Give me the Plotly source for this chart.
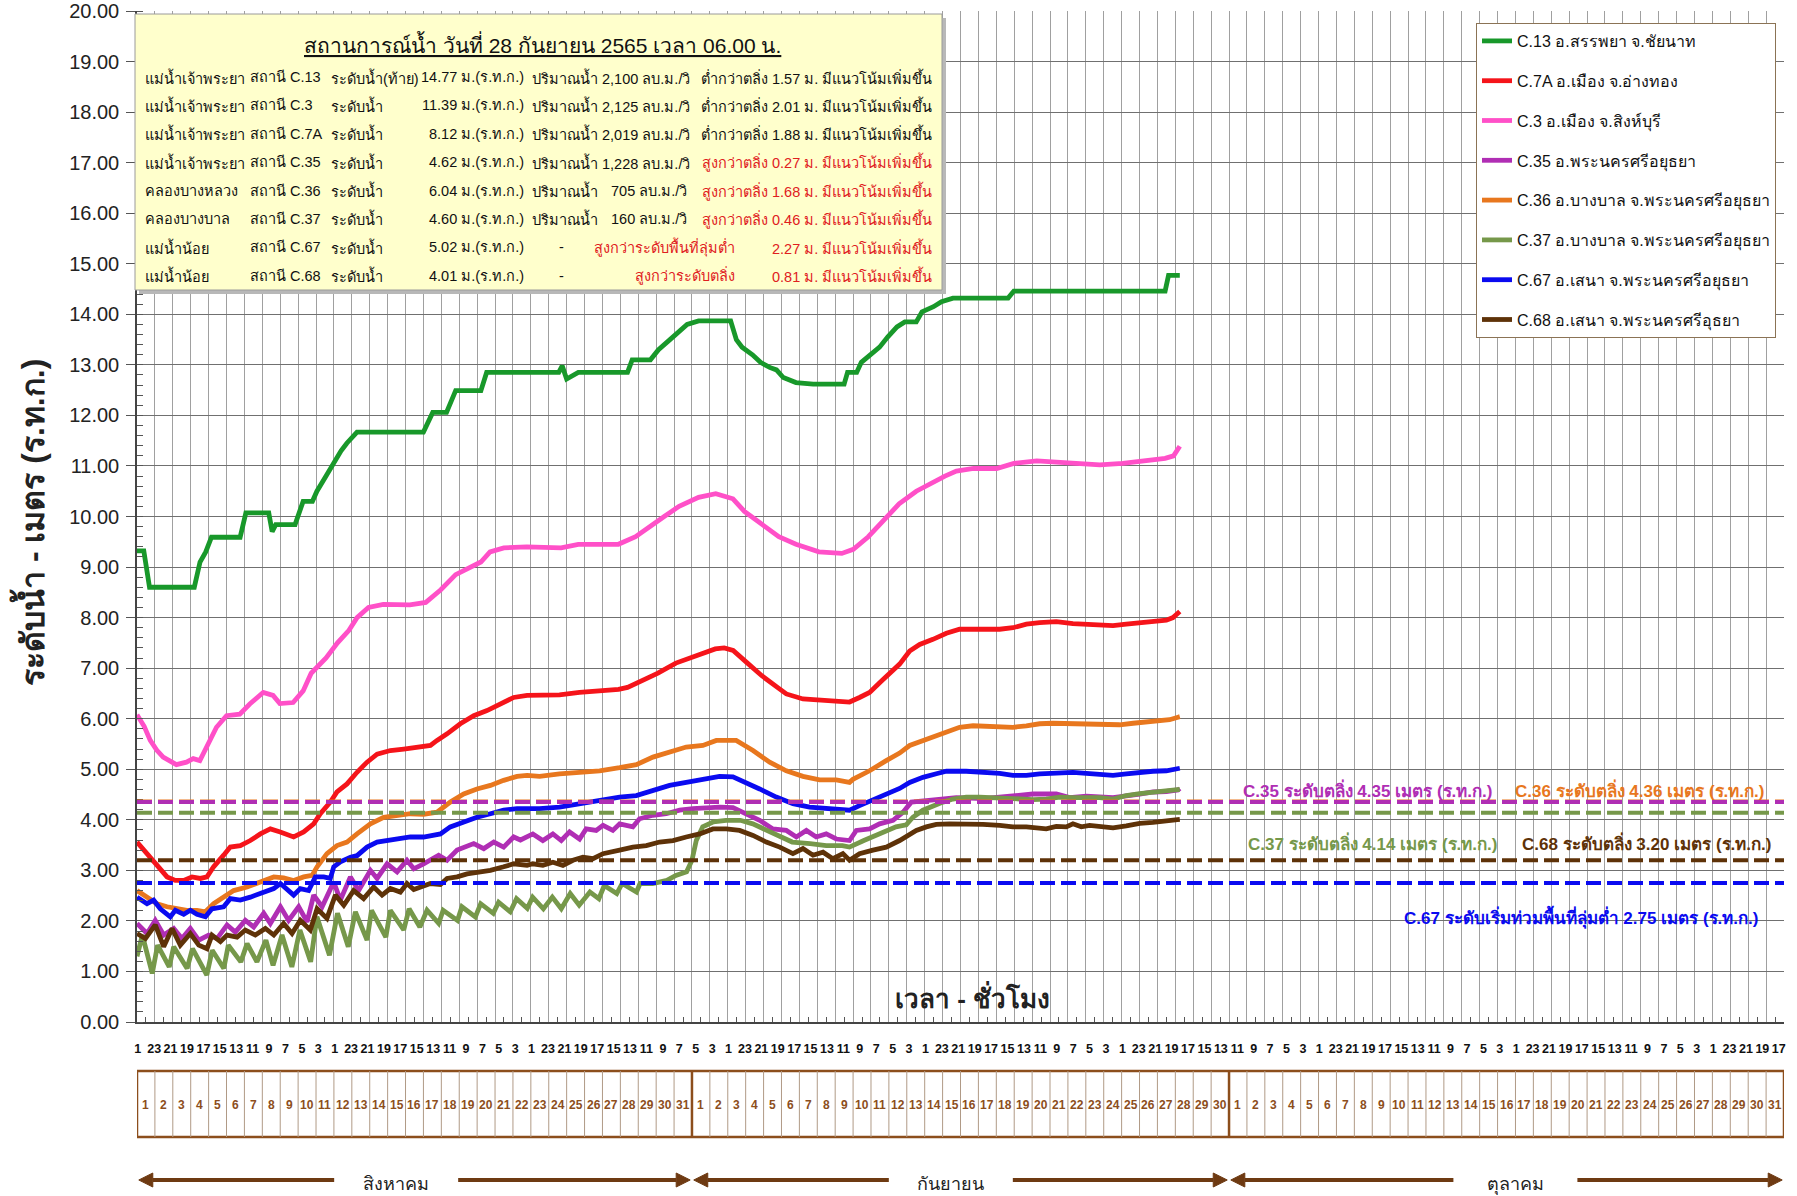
import plotly.graph_objects as go
from datetime import datetime

# ------------------------------------------------------------------
# Water levels (m MSL), time in days counted from 1 Aug 2022 00:00
# ------------------------------------------------------------------
C13_DAY = [0.00, 0.38, 0.70, 3.20, 3.52, 3.84, 4.16, 5.76, 6.08, 7.36, 7.55, 7.75, 8.83, 9.09, 9.28, 9.80,
           10.05, 10.56, 10.88, 11.40, 11.72, 12.29, 16.00, 16.52, 17.29, 17.80, 19.21, 19.53, 23.56, 23.75,
           24.00, 24.33, 24.65, 27.40, 27.66, 28.68, 29.13, 29.77, 30.22, 30.73, 31.37, 33.16, 33.48, 33.80,
           34.38, 34.83, 35.34, 35.72, 36.10, 36.81, 37.77, 39.50, 39.69, 40.20, 40.46, 40.97, 41.48, 41.93,
           42.45, 42.89, 43.53, 43.85, 44.49, 44.94, 45.58, 48.66, 48.98, 57.43, 57.62]
C13_LEVEL = [9.32, 9.32, 8.60, 8.60, 9.10, 9.30, 9.59, 9.59, 10.07, 10.07, 9.70, 9.84, 9.84, 10.10, 10.30, 10.30,
             10.50, 10.80, 11.00, 11.30, 11.45, 11.67, 11.67, 12.06, 12.06, 12.49, 12.49, 12.85, 12.85, 12.98,
             12.72, 12.80, 12.85, 12.85, 13.10, 13.10, 13.30, 13.50, 13.65, 13.80, 13.87, 13.87, 13.50, 13.35,
             13.20, 13.05, 12.95, 12.90, 12.75, 12.65, 12.62, 12.62, 12.85, 12.85, 13.05, 13.20, 13.35, 13.55,
             13.75, 13.85, 13.85, 14.05, 14.15, 14.25, 14.32, 14.32, 14.46, 14.46, 14.77]

C3_DAY = [0.00, 0.40, 0.74, 1.10, 1.46, 2.20, 2.76, 3.14, 3.51, 3.88, 4.44, 5.00, 5.74, 6.30, 7.05, 7.60, 7.98,
          8.72, 9.28, 9.73, 10.56, 11.20, 11.84, 12.29, 12.93, 13.76, 15.24, 16.13, 16.97, 17.80, 18.69, 19.21,
          19.72, 20.49, 21.77, 23.69, 24.65, 26.89, 27.85, 28.81, 29.45, 30.28, 31.37, 32.33, 33.29, 33.93,
          34.89, 35.85, 36.81, 38.09, 39.37, 40.01, 40.85, 41.61, 42.57, 43.53, 44.30, 45.13, 45.77, 46.73,
          48.02, 48.98, 50.26, 51.22, 52.50, 53.78, 55.06, 56.34, 57.43, 57.90]
C3_LEVEL = [6.08, 5.85, 5.57, 5.38, 5.24, 5.09, 5.14, 5.21, 5.17, 5.44, 5.83, 6.06, 6.09, 6.29, 6.52, 6.46, 6.30,
            6.32, 6.55, 6.90, 7.20, 7.50, 7.75, 8.00, 8.20, 8.26, 8.25, 8.30, 8.55, 8.85, 9.00, 9.10,
            9.30, 9.38, 9.40, 9.38, 9.45, 9.45, 9.60, 9.85, 10.00, 10.20, 10.38, 10.45, 10.35, 10.10,
            9.85, 9.60, 9.45, 9.30, 9.27, 9.35, 9.60, 9.90, 10.25, 10.50, 10.65, 10.80, 10.90, 10.95,
            10.95, 11.05, 11.10, 11.08, 11.05, 11.02, 11.05, 11.10, 11.15, 11.20]

C7A_DAY = [0.00, 0.56, 1.12, 1.68, 2.14, 2.61, 3.07, 3.54, 3.91, 4.28, 4.84, 5.21, 5.77, 6.33, 6.89, 7.45, 8.00,
           8.75, 9.31, 9.87, 10.24, 10.80, 11.17, 11.73, 12.29, 12.85, 13.41, 14.15, 14.90, 15.64, 16.39, 16.76,
           17.32, 18.06, 18.81, 19.55, 20.30, 21.04, 21.79, 22.49, 23.60, 24.72, 25.84, 26.90, 27.40, 28.20,
           29.10, 30.10, 31.20, 32.30, 32.80, 33.30, 34.10, 34.90, 35.85, 36.27, 37.20, 38.13, 39.06, 39.80,
           40.36, 40.92, 41.60, 42.10, 42.60, 43.16, 43.72, 44.46, 45.21, 45.95, 46.70, 47.44, 48.19, 48.93,
           49.68, 50.42, 51.35, 52.28, 53.03, 53.77, 54.52, 55.26, 56.01, 56.75, 57.50, 57.87, 58.15]
C7A_LEVEL = [3.56, 3.33, 3.07, 2.87, 2.80, 2.80, 2.87, 2.84, 2.87, 3.07, 3.30, 3.46, 3.49, 3.59, 3.72, 3.82, 3.76,
             3.66, 3.76, 3.92, 4.12, 4.35, 4.55, 4.71, 4.94, 5.14, 5.30, 5.37, 5.40, 5.44, 5.47, 5.57,
             5.70, 5.90, 6.06, 6.16, 6.29, 6.42, 6.46, 6.46, 6.47, 6.52, 6.55, 6.58, 6.62, 6.75,
             6.90, 7.10, 7.25, 7.38, 7.40, 7.35, 7.10, 6.85, 6.60, 6.49, 6.39, 6.36, 6.33, 6.33,
             6.42, 6.52, 6.75, 6.92, 7.08, 7.34, 7.47, 7.57, 7.69, 7.77, 7.77, 7.75, 7.77, 7.80,
             7.87, 7.90, 7.92, 7.88, 7.87, 7.85, 7.84, 7.87, 7.90, 7.92, 7.95, 8.00, 8.10]

C35_DAY = [0.00, 0.56, 1.02, 1.49, 2.05, 2.51, 2.98, 3.45, 4.00, 4.47, 5.03, 5.49, 6.05, 6.52, 7.08, 7.45, 8.01,
           8.47, 9.03, 9.50, 9.87, 10.34, 10.99, 11.36, 11.92, 12.38, 13.04, 13.41, 13.97, 14.53, 15.08, 15.46,
           16.01, 16.85, 17.32, 17.88, 18.81, 19.37, 19.93, 20.48, 21.04, 21.42, 22.11, 22.67, 23.23, 23.70,
           24.16, 24.72, 25.09, 25.65, 26.03, 26.58, 26.96, 27.70, 28.07, 28.82, 29.56, 30.31, 31.05, 31.98,
           32.54, 33.29, 34.03, 34.78, 35.52, 36.27, 36.83, 37.39, 37.94, 38.50, 39.06, 39.80, 40.18, 40.92,
           41.48, 42.23, 42.79, 43.25, 44.09, 45.02, 45.77, 47.26, 48.00, 48.75, 50.05, 51.35, 52.10, 53.03,
           54.52, 56.01, 56.75, 57.50, 58.15]
C35_LEVEL = [1.95, 1.75, 2.01, 1.72, 1.85, 1.65, 1.85, 1.62, 1.72, 1.65, 1.92, 1.78, 2.01, 1.88, 2.15, 1.95, 2.28,
             2.01, 2.28, 1.98, 2.51, 2.28, 2.77, 2.41, 2.87, 2.60, 3.00, 2.84, 3.13, 2.97, 3.20, 3.03,
             3.13, 3.30, 3.20, 3.40, 3.53, 3.43, 3.56, 3.46, 3.66, 3.60, 3.72, 3.59, 3.72, 3.59,
             3.76, 3.62, 3.82, 3.79, 3.89, 3.79, 3.92, 3.86, 4.02, 4.09, 4.12, 4.19, 4.22, 4.25,
             4.25, 4.24, 4.12, 3.99, 3.82, 3.79, 3.66, 3.79, 3.66, 3.72, 3.62, 3.59, 3.79, 3.82,
             3.92, 3.99, 4.15, 4.35, 4.38, 4.41, 4.44, 4.42, 4.45, 4.48, 4.51, 4.51, 4.44, 4.47,
             4.44, 4.51, 4.55, 4.56, 4.59]

C36_DAY = [0.00, 0.56, 1.12, 1.68, 2.23, 2.79, 3.35, 3.82, 4.28, 4.84, 5.40, 6.15, 6.89, 7.64, 8.19, 8.75, 9.31,
           9.78, 10.06, 10.61, 11.17, 11.73, 12.29, 13.04, 13.78, 14.53, 15.27, 16.01, 16.76, 17.50, 18.25,
           18.99, 19.74, 20.48, 21.23, 21.79, 22.49, 23.60, 24.72, 25.84, 26.96, 27.89, 28.82, 29.75, 30.68,
           31.61, 32.36, 33.47, 34.41, 35.34, 36.27, 37.20, 38.13, 39.06, 39.80, 39.99, 40.92, 41.85, 42.60,
           43.16, 43.90, 44.83, 45.39, 45.95, 46.70, 47.44, 48.19, 48.93, 49.68, 50.42, 51.17, 51.91, 52.66,
           53.40, 54.15, 54.89, 55.64, 56.38, 57.13, 57.68, 58.15]
C36_LEVEL = [2.60, 2.47, 2.34, 2.28, 2.24, 2.21, 2.21, 2.18, 2.34, 2.47, 2.60, 2.67, 2.77, 2.87, 2.85, 2.80, 2.87,
             2.90, 3.07, 3.33, 3.49, 3.56, 3.72, 3.92, 4.05, 4.09, 4.12, 4.11, 4.15, 4.35, 4.51,
             4.61, 4.68, 4.78, 4.86, 4.88, 4.86, 4.91, 4.94, 4.97, 5.03, 5.09, 5.24, 5.34, 5.44,
             5.47, 5.57, 5.57, 5.37, 5.14, 4.97, 4.86, 4.79, 4.79, 4.74, 4.80, 4.97, 5.17, 5.32,
             5.47, 5.57, 5.67, 5.76, 5.83, 5.86, 5.85, 5.85, 5.83, 5.86, 5.90, 5.91, 5.90, 5.91,
             5.90, 5.88, 5.88, 5.91, 5.93, 5.95, 5.98, 6.03]

C37_DAY = [0.00, 0.30, 0.85, 1.15, 1.80, 2.05, 2.80, 3.10, 3.90, 4.20, 4.85, 5.10, 5.80, 6.15, 6.70, 7.20, 7.60,
           8.10, 8.65, 9.10, 9.70, 10.05, 10.75, 11.20, 11.80, 12.20, 12.85, 13.10, 13.90, 14.15, 14.90, 15.20,
           15.80, 16.20, 16.85, 17.10, 17.90, 18.15, 18.90, 19.20, 19.90, 20.20, 20.85, 21.20, 21.80, 22.10,
           22.70, 23.20, 23.70, 24.20, 24.70, 25.30, 25.80, 26.10, 26.80, 27.10, 27.90, 28.10, 28.80, 29.60,
           30.10, 30.70, 31.00, 31.24, 31.60, 32.20, 32.90, 33.70, 34.40, 35.20, 35.90, 36.60, 37.60, 38.50,
           39.40, 39.80, 40.60, 41.50, 42.40, 42.97, 43.34, 43.90, 44.46, 45.02, 45.58, 46.32, 47.07, 47.81,
           48.56, 49.30, 50.05, 50.79, 51.54, 52.28, 53.03, 53.77, 54.52, 55.26, 56.01, 56.75, 57.50, 58.15]
C37_LEVEL = [1.30, 1.72, 0.96, 1.52, 1.09, 1.49, 1.06, 1.45, 0.93, 1.42, 1.06, 1.52, 1.19, 1.55, 1.19, 1.62, 1.12,
             1.72, 1.09, 1.82, 1.19, 2.08, 1.32, 2.15, 1.49, 2.18, 1.62, 2.21, 1.68, 2.21, 1.82, 2.24,
             1.88, 2.21, 1.95, 2.21, 2.01, 2.28, 2.08, 2.34, 2.15, 2.37, 2.18, 2.44, 2.25, 2.47,
             2.24, 2.47, 2.24, 2.54, 2.31, 2.57, 2.44, 2.70, 2.54, 2.74, 2.57, 2.74, 2.74, 2.80,
             2.90, 2.97, 3.20, 3.59, 3.86, 3.96, 3.99, 3.99, 3.92, 3.79, 3.69, 3.56, 3.53, 3.49,
             3.49, 3.46, 3.59, 3.72, 3.86, 3.90, 4.05, 4.19, 4.28, 4.35, 4.41, 4.45, 4.45, 4.44,
             4.41, 4.41, 4.40, 4.41, 4.45, 4.44, 4.44, 4.44, 4.41, 4.48, 4.52, 4.55, 4.58, 4.60]

C67_DAY = [0.00, 0.56, 0.93, 1.30, 1.86, 2.14, 2.61, 2.98, 3.35, 3.82, 4.19, 4.84, 5.21, 5.77, 6.33, 7.08, 7.64,
           8.01, 8.47, 8.75, 9.12, 9.59, 9.96, 10.43, 10.80, 10.99, 11.36, 11.92, 12.29, 12.85, 13.41, 13.97,
           14.71, 15.27, 16.01, 16.57, 16.95, 17.50, 18.25, 18.99, 19.74, 20.48, 21.23, 21.79, 22.49, 23.60,
           24.72, 25.84, 26.96, 27.89, 28.82, 29.75, 30.68, 31.61, 32.54, 33.29, 34.03, 34.78, 35.71, 36.64,
           37.57, 38.50, 39.80, 40.36, 41.30, 42.23, 42.60, 43.16, 43.90, 44.65, 45.21, 46.32, 47.44, 48.19,
           48.93, 49.68, 50.42, 51.17, 52.28, 53.03, 53.77, 54.52, 55.26, 56.01, 56.75, 57.50, 58.15]
C67_LEVEL = [2.47, 2.34, 2.41, 2.24, 2.08, 2.21, 2.13, 2.21, 2.13, 2.08, 2.24, 2.28, 2.44, 2.41, 2.47, 2.57, 2.64,
             2.74, 2.60, 2.51, 2.64, 2.60, 2.87, 2.87, 2.84, 3.07, 3.17, 3.26, 3.29, 3.46, 3.56, 3.59,
             3.62, 3.66, 3.66, 3.69, 3.72, 3.86, 3.96, 4.05, 4.12, 4.19, 4.22, 4.22, 4.22, 4.25,
             4.32, 4.38, 4.45, 4.48, 4.58, 4.68, 4.74, 4.81, 4.86, 4.85, 4.74, 4.61, 4.45, 4.32,
             4.25, 4.22, 4.19, 4.28, 4.42, 4.55, 4.62, 4.74, 4.84, 4.91, 4.96, 4.96, 4.94, 4.92,
             4.88, 4.88, 4.91, 4.93, 4.94, 4.92, 4.89, 4.88, 4.91, 4.94, 4.96, 4.97, 5.01]

C68_DAY = [0.00, 0.47, 1.02, 1.49, 1.96, 2.42, 2.98, 3.45, 3.91, 4.19, 4.66, 5.03, 5.59, 6.05, 6.61, 7.17, 7.64,
           8.19, 8.66, 9.12, 9.68, 10.06, 10.61, 11.08, 11.55, 12.10, 12.66, 13.22, 13.69, 14.15, 14.71, 15.08,
           15.46, 15.83, 16.39, 16.95, 17.32, 17.88, 18.44, 19.18, 19.74, 20.48, 21.04, 21.79, 22.11, 22.67,
           23.23, 23.79, 24.35, 24.91, 25.47, 26.03, 26.58, 26.96, 27.70, 28.45, 29.19, 29.94, 30.68, 31.43,
           32.17, 32.92, 33.66, 34.41, 35.15, 35.90, 36.64, 37.20, 37.76, 38.32, 38.87, 39.43, 39.80, 40.36,
           41.11, 41.85, 42.60, 42.97, 43.53, 44.09, 44.65, 45.39, 46.32, 47.26, 48.19, 48.93, 49.68, 50.42,
           50.79, 51.35, 51.91, 52.28, 52.75, 53.21, 53.77, 54.52, 55.26, 56.01, 56.75, 57.50, 58.15]
C68_LEVEL = [1.75, 1.65, 1.92, 1.49, 1.85, 1.52, 1.75, 1.52, 1.45, 1.72, 1.59, 1.72, 1.68, 1.82, 1.72, 1.85, 1.72,
             1.95, 1.75, 2.01, 1.82, 2.24, 2.05, 2.51, 2.31, 2.60, 2.44, 2.67, 2.51, 2.64, 2.57, 2.74,
             2.62, 2.67, 2.74, 2.72, 2.84, 2.87, 2.93, 2.97, 3.00, 3.07, 3.13, 3.10, 3.13, 3.10,
             3.16, 3.10, 3.20, 3.26, 3.23, 3.33, 3.36, 3.40, 3.46, 3.49, 3.56, 3.59, 3.66, 3.72,
             3.82, 3.82, 3.79, 3.69, 3.56, 3.46, 3.33, 3.43, 3.30, 3.36, 3.23, 3.33, 3.20, 3.33,
             3.40, 3.46, 3.59, 3.66, 3.79, 3.86, 3.91, 3.92, 3.92, 3.91, 3.89, 3.86, 3.86, 3.84,
             3.82, 3.87, 3.86, 3.92, 3.86, 3.89, 3.86, 3.84, 3.88, 3.93, 3.95, 3.97, 4.00]

# Station summary at report time
REPORT_TIME = datetime(2022, 9, 28, 6, 0)
SERIES_START = datetime(2022, 8, 1, 0, 0)
INFO_RIVER = ["แม่น้ำเจ้าพระยา", "แม่น้ำเจ้าพระยา", "แม่น้ำเจ้าพระยา", "แม่น้ำเจ้าพระยา",
              "คลองบางหลวง", "คลองบางบาล", "แม่น้ำน้อย", "แม่น้ำน้อย"]
INFO_CODE = ["C.13", "C.3", "C.7A", "C.35", "C.36", "C.37", "C.67", "C.68"]
INFO_GAUGE = ["ระดับน้ำ(ท้าย)", "ระดับน้ำ", "ระดับน้ำ", "ระดับน้ำ", "ระดับน้ำ", "ระดับน้ำ", "ระดับน้ำ", "ระดับน้ำ"]
INFO_LEVEL = [14.77, 11.39, 8.12, 4.62, 6.04, 4.60, 5.02, 4.01]
INFO_FLOW = ["2,100", "2,125", "2,019", "1,228", "705", "160", None, None]
INFO_COMPARE = ["ต่ำกว่าตลิ่ง", "ต่ำกว่าตลิ่ง", "ต่ำกว่าตลิ่ง", "สูงกว่าตลิ่ง", "สูงกว่าตลิ่ง", "สูงกว่าตลิ่ง",
                "สูงกว่าระดับพื้นที่ลุ่มต่ำ", "สูงกว่าระดับตลิ่ง"]
INFO_DIFF = [1.57, 2.01, 1.88, 0.27, 1.68, 0.46, 2.27, 0.81]
INFO_TREND = "มีแนวโน้มเพิ่มขึ้น"
THAI_MONTH = {9: "กันยายน"}

# Warning levels
THRESH_CODE = ["C.36", "C.35", "C.37", "C.68", "C.67"]
THRESH_LEVEL = [4.36, 4.35, 4.14, 3.20, 2.75]
THRESH_KIND = ["ระดับตลิ่ง", "ระดับตลิ่ง", "ระดับตลิ่ง", "ระดับตลิ่ง", "ระดับเริ่มท่วมพื้นที่ลุ่มต่ำ"]

LEGEND_NAME = {
    "C.13": "C.13 อ.สรรพยา จ.ชัยนาท",
    "C.7A": "C.7A อ.เมือง จ.อ่างทอง",
    "C.3": "C.3 อ.เมือง จ.สิงห์บุรี",
    "C.35": "C.35 อ.พระนครศรีอยุธยา",
    "C.36": "C.36 อ.บางบาล จ.พระนครศรีอยุธยา",
    "C.37": "C.37 อ.บางบาล จ.พระนครศรีอยุธยา",
    "C.67": "C.67 อ.เสนา จ.พระนครศรีอยุธยา",
    "C.68": "C.68 อ.เสนา จ.พระนครศรีอุธยา",
}
MONTHS = [("สิงหาคม", 31), ("กันยายน", 30), ("ตุลาคม", 31)]

# ------------------------------------------------------------------
COLORS = {
    "C.13": "#18982A", "C.7A": "#F5141A", "C.3": "#FF50C8", "C.35": "#B02EB4",
    "C.36": "#E8771E", "C.37": "#76984A", "C.67": "#0A0AF0", "C.68": "#5E3208",
}
SERIES = [
    ("C.13", C13_DAY, C13_LEVEL), ("C.7A", C7A_DAY, C7A_LEVEL), ("C.3", C3_DAY, C3_LEVEL),
    ("C.35", C35_DAY, C35_LEVEL), ("C.36", C36_DAY, C36_LEVEL), ("C.37", C37_DAY, C37_LEVEL),
    ("C.67", C67_DAY, C67_LEVEL), ("C.68", C68_DAY, C68_LEVEL),
]

W, H = 1797, 1196
ML, MR, MT, MB = 137, 13, 11, 174
PW, PH = W - ML - MR, H - MT - MB
N_DAYS = sum(n for _, n in MONTHS)
FONT = "Liberation Sans, Arial, sans-serif"
NARROW = "Liberation Sans Narrow, Arial Narrow, Liberation Sans, sans-serif"


def px_x(p):
    return (p - ML) / PW


def px_y(p):
    return (MT + PH - p) / PH


def label(x, y, text, size, color="#111", family=FONT, xanchor="center", xref="paper", **kw):
    return dict(xref=xref, yref="paper", x=x, y=y, xanchor=xanchor, yanchor="middle",
                showarrow=False, text=text, font=dict(family=family, size=size, color=color), **kw)


report_day = (REPORT_TIME - SERIES_START).total_seconds() / 86400
current = dict(zip(INFO_CODE, INFO_LEVEL))

fig = go.Figure()
for code, days, levels in SERIES:
    assert len(days) == len(levels), code
    fig.add_trace(go.Scatter(
        x=days + [report_day], y=levels + [current[code]], mode="lines",
        name=LEGEND_NAME[code], legendgroup=code,
        line=dict(color=COLORS[code], width=4.8),
    ))

shapes = []
annotations = []

# white panels behind warning-level captions
for x0, y0, x1, y1 in [(1226, 773, 1784, 800), (1232, 818, 1784, 858), (1389, 899, 1771, 934)]:
    shapes.append(dict(type="rect", xref="paper", yref="paper", x0=px_x(x0), x1=px_x(x1),
                       y0=px_y(y1), y1=px_y(y0), fillcolor="white", line=dict(width=0), layer="between"))

# warning levels
caption_pos = {"C.35": (1367, 790), "C.36": (1639, 790), "C.37": (1372, 843),
               "C.68": (1646, 843), "C.67": (1581, 917)}
for code, lvl, kind in zip(THRESH_CODE, THRESH_LEVEL, THRESH_KIND):
    shapes.append(dict(type="line", xref="x", yref="y", x0=0, x1=N_DAYS, y0=lvl, y1=lvl,
                       line=dict(color=COLORS[code], width=4, dash="15px,6px"), layer="above"))
    cx, cy = caption_pos[code]
    annotations.append(label(px_x(cx), px_y(cy), f"<b>{code} {kind} {lvl:.2f} เมตร (ร.ท.ก.)</b>", 17,
                             COLORS[code], NARROW))

# summary panel
shapes.append(dict(type="rect", xref="paper", yref="paper", x0=px_x(139), x1=px_x(946),
                   y0=px_y(294), y1=px_y(18), fillcolor="#B8B8B8", line=dict(width=0), layer="above"))
shapes.append(dict(type="rect", xref="paper", yref="paper", x0=px_x(135), x1=px_x(942),
                   y0=px_y(290), y1=px_y(14), fillcolor="#FFFFCC", line=dict(color="#9A9A9A", width=1),
                   layer="above"))
report_txt = (f"สถานการณ์น้ำ วันที่ {REPORT_TIME.day} {THAI_MONTH[REPORT_TIME.month]} "
              f"{REPORT_TIME.year + 543} เวลา {REPORT_TIME:%H.%M} น.")
annotations.append(label(px_x(542), px_y(44), f"<u>{report_txt}</u>", 21))
INFO_FONT = 14.5
for i in range(len(INFO_CODE)):
    yy = px_y(77 + i * 28.4)
    red = INFO_COMPARE[i].startswith("สูง")
    tcol = "#E0201E" if red else "#111"

    def put(x, text, anchor="left", color="#111"):
        annotations.append(label(px_x(x), yy, text, INFO_FONT, color, FONT, xanchor=anchor))

    put(143, INFO_RIVER[i])
    put(248, f"สถานี {INFO_CODE[i]}")
    put(329, INFO_GAUGE[i])
    put(526, f"{INFO_LEVEL[i]:.2f} ม.(ร.ท.ก.)", "right")
    if INFO_FLOW[i] is not None:
        if len(INFO_FLOW[i]) > 3:
            put(530, f"ปริมาณน้ำ {INFO_FLOW[i]} ลบ.ม./วิ")
        else:
            put(530, "ปริมาณน้ำ")
            put(689, f"{INFO_FLOW[i]} ลบ.ม./วิ", "right")
        put(934, f"{INFO_COMPARE[i]} {INFO_DIFF[i]:.2f} ม. {INFO_TREND}", "right", tcol)
    else:
        put(561, "-", "center")
        put(737, INFO_COMPARE[i], "right", tcol)
        put(934, f"{INFO_DIFF[i]:.2f} ม. {INFO_TREND}", "right", tcol)

# axis captions
annotations.append(label(px_x(30), px_y(523), "<b>ระดับน้ำ - เมตร (ร.ท.ก.)</b>", 32, "#222", textangle=-90))
annotations.append(label(px_x(972), px_y(997), "<b>เวลา - ชั่วโมง</b>", 26, "#222"))

# calendar strip below the axis
BROWN = "#8C4E1C"
cal_top, cal_bot = px_y(1071), px_y(1137)
shapes.append(dict(type="rect", xref="x", yref="paper", x0=0, x1=N_DAYS, y0=cal_bot, y1=cal_top,
                   line=dict(color=BROWN, width=2.5), fillcolor="rgba(0,0,0,0)"))
start = 0
month_edges = []
for name, ndays in MONTHS:
    for d in range(ndays):
        if d > 0:
            shapes.append(dict(type="line", xref="x", yref="paper", x0=start + d, x1=start + d,
                               y0=cal_bot, y1=cal_top, line=dict(color="#B09A86", width=1)))
        annotations.append(label(start + d + 0.5, px_y(1105), f"<b>{d + 1}</b>", 12, BROWN, NARROW, xref="x"))
    month_edges.append((start, start + ndays, name))
    start += ndays
    if start < N_DAYS:
        shapes.append(dict(type="line", xref="x", yref="paper", x0=start, x1=start, y0=cal_bot, y1=cal_top,
                           line=dict(color=BROWN, width=2.5)))

# month arrows
ARROW = "#6E3A12"
ay = px_y(1180)
day_px = PW / N_DAYS
head = 14 / day_px
hh = 7 / PH
gap = 62 / day_px
label_frac = [0.467, 0.482, 0.516]
for (a, b, name), frac in zip(month_edges, label_frac):
    c = a + frac * (b - a)
    annotations.append(label(c, px_y(1184), name, 18, "#222", xref="x"))
    a2, b2 = a + 0.1, b - 0.1
    shapes.append(dict(type="line", xref="x", yref="paper", x0=a2 + head, x1=c - gap, y0=ay, y1=ay,
                       line=dict(color=ARROW, width=4)))
    shapes.append(dict(type="line", xref="x", yref="paper", x0=c + gap, x1=b2 - head, y0=ay, y1=ay,
                       line=dict(color=ARROW, width=4)))
    shapes.append(dict(type="path", xref="x", yref="paper", fillcolor=ARROW, line=dict(color=ARROW, width=1),
                       path=f"M {a2},{ay} L {a2 + head},{ay + hh} L {a2 + head},{ay - hh} Z"))
    shapes.append(dict(type="path", xref="x", yref="paper", fillcolor=ARROW, line=dict(color=ARROW, width=1),
                       path=f"M {b2},{ay} L {b2 - head},{ay + hh} L {b2 - head},{ay - hh} Z"))

# hourly tick labels every 22 hours
tick_hours = list(range(1, N_DAYS * 24, 22))
tick_days = [h / 24 for h in tick_hours]
tick_text = [str(h % 24) for h in tick_hours]

fig.update_layout(
    width=W, height=H, autosize=False,
    margin=dict(l=ML, r=MR, t=MT, b=MB, autoexpand=False),
    paper_bgcolor="white", plot_bgcolor="white",
    font=dict(family=FONT, color="#111"),
    showlegend=True,
    legend=dict(x=px_x(1476), y=px_y(23), xanchor="left", yanchor="top", bgcolor="white",
                bordercolor="#8B7355", borderwidth=1, tracegroupgap=16, itemwidth=30,
                font=dict(family=FONT, size=16, color="#111")),
    xaxis=dict(range=[0, N_DAYS], dtick=1, tick0=0, showgrid=True, gridcolor="#A0A0A0", gridwidth=1.3,
               showticklabels=False, ticks="", zeroline=False, showline=True, linecolor="#444",
               linewidth=1.5, fixedrange=True, automargin=False),
    xaxis2=dict(range=[0, N_DAYS], overlaying="x", anchor="y", side="bottom", tickmode="array",
                tickvals=tick_days, ticktext=tick_text, ticks="", showgrid=False, zeroline=False,
                ticklabelstandoff=17, tickangle=0, automargin=False,
                tickfont=dict(family=NARROW, size=12.5, color="#111", weight="bold"), fixedrange=True),
    xaxis3=dict(range=[0, N_DAYS], overlaying="x", anchor="y", side="bottom", tickmode="array",
                tickvals=[d + 0.5 for d in range(N_DAYS)], ticks="inside", ticklen=5, tickcolor="#555",
                showticklabels=False, showgrid=False, zeroline=False, fixedrange=True, automargin=False),
    yaxis=dict(range=[0, 20], dtick=1, tickformat=".2f", showgrid=True, gridcolor="#707070", gridwidth=1.3,
               zeroline=False, showline=True, linecolor="#444", linewidth=1.5, ticks="outside", ticklen=9,
               tickcolor="#555", tickfont=dict(family=FONT, size=20, color="#222"),
               ticklabelstandoff=3, ticklabeloverflow="allow", automargin=False,
               minor=dict(dtick=0.2, ticks="inside", ticklen=6, tickcolor="#555", showgrid=False),
               fixedrange=True),
    shapes=shapes, annotations=annotations,
)
# invisible traces so the helper axes are drawn
fig.add_trace(go.Scatter(x=[0, N_DAYS], y=[None, None], xaxis="x2", showlegend=False, hoverinfo="skip"))
fig.add_trace(go.Scatter(x=[0, N_DAYS], y=[None, None], xaxis="x3", showlegend=False, hoverinfo="skip"))

fig.write_html("out.html")
